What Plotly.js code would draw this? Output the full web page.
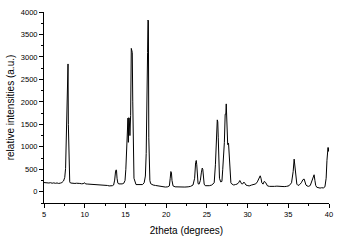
<!DOCTYPE html>
<html><head><meta charset="utf-8">
<script src="https://cdn.plot.ly/plotly-3.0.1.min.js"></script>
<style>html,body{margin:0;padding:0;background:#fff;}#c{width:349px;height:240px;}</style>
</head><body><div id="c"></div>
<script>
const twoTheta = [5.0,5.2,5.4,5.6,5.8,6.0,6.2,6.4,6.6,6.8,7.0,7.2,7.4,7.55,7.65,7.72,7.78,7.82,7.86,7.9,7.95,7.99,8.03,8.07,8.11,8.16,8.25,8.4,8.6,8.8,9.0,9.2,9.4,9.6,9.8,10.0,10.1,10.3,10.5,10.8,11.0,11.3,11.6,11.9,12.2,12.5,12.8,13.0,13.2,13.4,13.55,13.68,13.78,13.85,13.9,13.97,14.07,14.2,14.4,14.6,14.8,14.95,15.05,15.15,15.25,15.31,15.36,15.41,15.47,15.55,15.64,15.72,15.78,15.84,15.9,15.96,16.05,16.3,16.6,16.9,17.1,17.3,17.45,17.55,17.62,17.66,17.72,17.77,17.82,17.87,17.93,18.0,18.1,18.4,18.7,19.0,19.3,19.6,19.9,20.2,20.4,20.5,20.58,20.65,20.72,20.85,21.1,21.5,21.9,22.3,22.7,23.0,23.3,23.5,23.62,23.7,23.76,23.82,23.92,24.05,24.2,24.32,24.43,24.5,24.57,24.67,24.8,25.0,25.3,25.6,25.9,26.05,26.18,26.28,26.34,26.4,26.46,26.55,26.7,26.85,26.95,27.05,27.15,27.25,27.33,27.38,27.44,27.49,27.56,27.66,27.76,27.84,27.95,28.05,28.15,28.3,28.5,28.7,28.9,29.05,29.15,29.25,29.4,29.55,29.7,29.8,29.95,30.2,30.5,30.8,31.0,31.2,31.4,31.55,31.65,31.75,31.9,32.05,32.2,32.3,32.45,32.7,33.0,33.3,33.6,33.9,34.2,34.5,34.8,35.1,35.4,35.6,35.72,35.8,35.88,35.96,36.05,36.2,36.4,36.6,36.8,36.95,37.07,37.17,37.3,37.5,37.7,37.9,38.05,38.17,38.27,38.37,38.5,38.7,38.9,39.1,39.3,39.5,39.65,39.75,39.83,39.88,39.93,39.97,40.0];
const intensity = [205,198,200,195,202,190,198,188,196,185,192,205,240,320,520,1200,1250,2100,2622,2622,2844,1500,890,880,400,220,195,190,200,185,190,180,185,178,180,200,175,172,170,168,165,160,158,155,160,150,140,130,125,135,150,260,440,489,480,300,190,175,170,175,190,250,500,1000,1580,1640,1100,1650,1640,1250,1700,3190,3150,3100,2000,800,300,160,155,150,160,200,350,850,2600,3100,3100,3822,3800,1200,500,250,180,150,140,130,125,110,105,110,130,300,450,420,250,130,110,105,100,105,110,120,150,300,650,696,600,300,180,170,250,420,526,500,300,170,135,130,135,150,200,600,1200,1600,1555,1200,700,300,220,230,500,800,1100,1726,1726,1955,1750,1300,1050,1082,700,300,200,175,160,150,160,170,200,250,220,180,175,215,180,150,140,130,150,165,175,220,300,355,300,200,170,230,210,160,130,120,115,120,125,118,120,115,120,135,200,450,726,585,400,250,170,140,160,200,270,282,200,150,130,120,140,250,360,378,250,140,100,90,82,90,85,110,300,700,985,985,900,980];

const tickFont = {family: 'Liberation Sans, Arial, sans-serif', size: 7.5, color: '#000'};
const titleFont = {family: 'Liberation Sans, Arial, sans-serif', size: 10, color: '#000'};

Plotly.newPlot('c', [{
  x: twoTheta, y: intensity, type: 'scatter', mode: 'lines',
  line: {color: '#000', width: 1}, hoverinfo: 'none'
}], {
  width: 349, height: 240,
  margin: {l: 44, r: 20, t: 12, b: 37},
  paper_bgcolor: '#fff', plot_bgcolor: '#fff',
  showlegend: false,
  xaxis: {
    range: [5, 40], tickvals: [5,10,15,20,25,30,35,40], ticktext: ['5','10','15','20','25','30','35','40'],
    ticks: 'outside', ticklen: 4, tickwidth: 1, tickcolor: '#000',
    minor: {dtick: 2.5, ticks: 'outside', ticklen: 2, tickcolor: '#000', showgrid: false},
    showline: true, linecolor: '#000', linewidth: 1, showgrid: false, zeroline: false,
    tickfont: tickFont,
    title: {text: '2theta (degrees)', font: titleFont, standoff: 8}
  },
  yaxis: {
    range: [-250, 4000], tickvals: [0,500,1000,1500,2000,2500,3000,3500,4000],
    ticks: 'outside', ticklen: 4, tickwidth: 1, tickcolor: '#000',
    minor: {dtick: 250, ticks: 'outside', ticklen: 2, tickcolor: '#000', showgrid: false},
    showline: true, linecolor: '#000', linewidth: 1, showgrid: false, zeroline: false,
    tickfont: tickFont,
    title: {text: 'relative intensities (a.u.)', font: titleFont, standoff: 4}
  }
}, {staticPlot: true, displayModeBar: false});
</script>
</body></html>
